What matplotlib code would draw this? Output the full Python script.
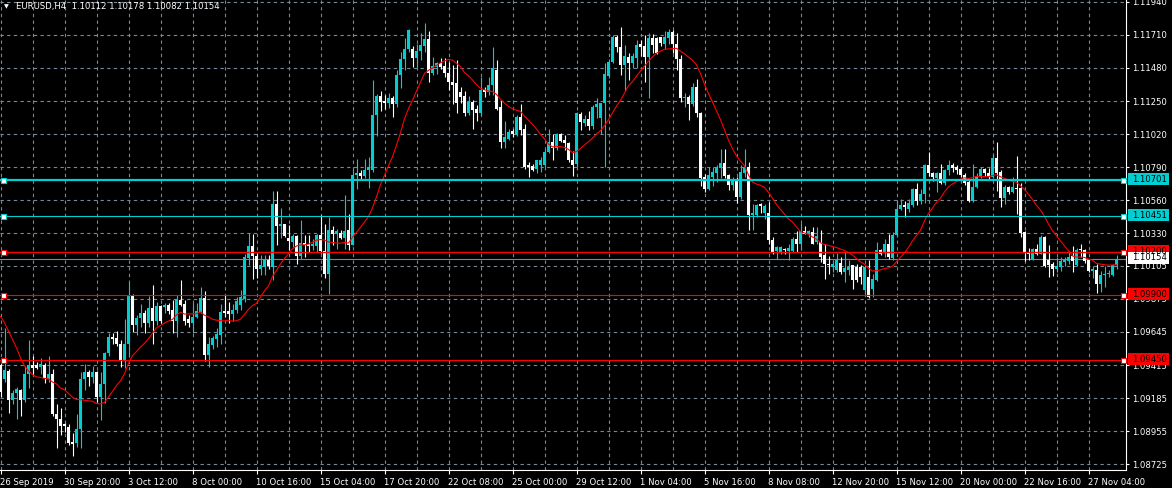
import numpy as np
import pandas as pd
import matplotlib
matplotlib.use('Agg')
from matplotlib import pyplot as plt
from matplotlib.patches import Rectangle

# EURUSD H4, one candle every 4 hours from 26 Sep 2019 00:00
opens = [
    1.09415, 1.09315, 1.09375, 1.09171, 1.09222, 1.09245, 1.09171, 1.09352, 1.09415, 1.09415,
    1.09403, 1.09415, 1.09315, 1.09352, 1.09078, 1.09043, 1.09004, 1.08985, 1.08881, 1.08874,
    1.08974, 1.09315, 1.09368, 1.09333, 1.09368, 1.09194, 1.09287, 1.09496, 1.09607, 1.09600,
    1.09565, 1.09445, 1.09561, 1.09902, 1.09693, 1.09739, 1.09779, 1.09709, 1.09809, 1.09723,
    1.09825, 1.09816, 1.09832, 1.09797, 1.09723, 1.09867, 1.09839, 1.09735, 1.09709, 1.09751,
    1.09786, 1.09879, 1.09484, 1.09554, 1.09593, 1.09623, 1.09790, 1.09790, 1.09770, 1.09800,
    1.09830, 1.09876, 1.10159, 1.10240, 1.10171, 1.10080, 1.10096, 1.10147, 1.10096, 1.10537,
    1.10382, 1.10398, 1.10298, 1.10270, 1.10310, 1.10173, 1.10266, 1.10259, 1.10242, 1.10242,
    1.10317, 1.10205, 1.10050, 1.10352, 1.10329, 1.10336, 1.10298, 1.10352, 1.10252, 1.10734,
    1.10751, 1.10730, 1.10769, 1.10769, 1.11152, 1.11284, 1.11249, 1.11233, 1.11268, 1.11226,
    1.11430, 1.11542, 1.11611, 1.11611, 1.11551, 1.11597, 1.11635, 1.11681, 1.11442, 1.11488,
    1.11512, 1.11495, 1.11442, 1.11379, 1.11372, 1.11314, 1.11284, 1.11168, 1.11245, 1.11198,
    1.11168, 1.11330, 1.11314, 1.11361, 1.11465, 1.11205, 1.10966, 1.10989, 1.11043, 1.11013,
    1.11136, 1.11059, 1.10804, 1.10797, 1.10781, 1.10804, 1.10804, 1.10897, 1.10966, 1.10927,
    1.11024, 1.10978, 1.10959, 1.10839, 1.10811, 1.11159, 1.11094, 1.11122, 1.11075, 1.11205,
    1.11129, 1.11233, 1.11423, 1.11523, 1.11692, 1.11627, 1.11500, 1.11558, 1.11516, 1.11546,
    1.11646, 1.11632, 1.11553, 1.11685, 1.11685, 1.11692, 1.11646, 1.11685, 1.11732, 1.11646,
    1.11540, 1.11268, 1.11280, 1.11229, 1.11350, 1.11169, 1.10723, 1.10642, 1.10723, 1.10751,
    1.10788, 1.10820, 1.10735, 1.10665, 1.10705, 1.10580, 1.10751, 1.10793, 1.10456, 1.10456,
    1.10533, 1.10473, 1.10473, 1.10287, 1.10208, 1.10201, 1.10224, 1.10208, 1.10208, 1.10294,
    1.10254, 1.10347, 1.10324, 1.10340, 1.10271, 1.10271, 1.10178, 1.10120, 1.10097, 1.10078,
    1.10125, 1.10062, 1.10073, 1.10108, 1.10097, 1.10097, 1.09934, 1.10027, 1.09946, 1.10004,
    1.10213, 1.10194, 1.10259, 1.10162, 1.10317, 1.10503, 1.10527, 1.10503, 1.10527, 1.10636,
    1.10557, 1.10603, 1.10805, 1.10747, 1.10712, 1.10747, 1.10677, 1.10770, 1.10805, 1.10789,
    1.10775, 1.10735, 1.10689, 1.10557, 1.10654, 1.10719, 1.10775, 1.10747, 1.10719, 1.10851,
    1.10759, 1.10573, 1.10654, 1.10619, 1.10643, 1.10643, 1.10341, 1.10202, 1.10148, 1.10225,
    1.10190, 1.10302, 1.10148, 1.10116, 1.10086, 1.10097, 1.10132, 1.10139, 1.10172, 1.10109,
    1.10218, 1.10218, 1.10144, 1.10070, 1.10079, 1.09977, 1.10039, 1.10046, 1.10039, 1.10112,
]
highs = [
    1.09449, 1.09670, 1.09391, 1.09241, 1.09264, 1.09252, 1.09408, 1.09589, 1.09477, 1.09438,
    1.09461, 1.09431, 1.09477, 1.09391, 1.09143, 1.09120, 1.09013, 1.09004, 1.08944, 1.09078,
    1.09368, 1.09426, 1.09384, 1.09408, 1.09375, 1.09368, 1.09507, 1.09635, 1.09635, 1.09654,
    1.09589, 1.09732, 1.09995, 1.09910, 1.09763, 1.09839, 1.09797, 1.09895, 1.09971, 1.09855,
    1.09832, 1.09848, 1.09848, 1.09867, 1.09902, 1.10006, 1.09867, 1.09763, 1.09844, 1.09848,
    1.09955, 1.09932, 1.09607, 1.09616, 1.09670, 1.09839, 1.09902, 1.09855, 1.09840, 1.09888,
    1.09934, 1.10189, 1.10336, 1.10329, 1.10196, 1.10178, 1.10178, 1.10178, 1.10623, 1.10623,
    1.10507, 1.10398, 1.10386, 1.10329, 1.10317, 1.10421, 1.10317, 1.10322, 1.10288, 1.10329,
    1.10456, 1.10398, 1.10444, 1.10382, 1.10358, 1.10352, 1.10595, 1.10468, 1.10781, 1.10850,
    1.10769, 1.10850, 1.10862, 1.11396, 1.11296, 1.11319, 1.11291, 1.11303, 1.11287, 1.11465,
    1.11588, 1.11686, 1.11750, 1.11635, 1.11644, 1.11720, 1.11790, 1.11737, 1.11558, 1.11523,
    1.11551, 1.11546, 1.11523, 1.11500, 1.11535, 1.11349, 1.11321, 1.11284, 1.11256, 1.11221,
    1.11414, 1.11349, 1.11419, 1.11627, 1.11535, 1.11256, 1.11112, 1.11059, 1.11059, 1.11152,
    1.11228, 1.11089, 1.10827, 1.10815, 1.10843, 1.10862, 1.10920, 1.11059, 1.11020, 1.11029,
    1.11029, 1.11013, 1.10966, 1.10904, 1.11175, 1.11175, 1.11152, 1.11182, 1.11221, 1.11268,
    1.11238, 1.11516, 1.11539, 1.11709, 1.11709, 1.11762, 1.11639, 1.11581, 1.11581, 1.11674,
    1.11674, 1.11709, 1.11720, 1.11716, 1.11692, 1.11697, 1.11739, 1.11748, 1.11743, 1.11720,
    1.11570, 1.11303, 1.11291, 1.11378, 1.11400, 1.11175, 1.10746, 1.10793, 1.10793, 1.10804,
    1.10920, 1.10920, 1.10746, 1.10723, 1.10723, 1.10804, 1.10920, 1.10828, 1.10537, 1.10537,
    1.10542, 1.10537, 1.10549, 1.10305, 1.10240, 1.10240, 1.10231, 1.10259, 1.10305, 1.10347,
    1.10403, 1.10380, 1.10357, 1.10375, 1.10375, 1.10357, 1.10259, 1.10171, 1.10143, 1.10194,
    1.10166, 1.10201, 1.10143, 1.10108, 1.10120, 1.10108, 1.10108, 1.10143, 1.10050, 1.10271,
    1.10224, 1.10294, 1.10329, 1.10340, 1.10561, 1.10572, 1.10557, 1.10566, 1.10643, 1.10677,
    1.10636, 1.10812, 1.10898, 1.10759, 1.10759, 1.10812, 1.10775, 1.10840, 1.10821, 1.10805,
    1.10789, 1.10747, 1.10701, 1.10812, 1.10747, 1.10789, 1.10782, 1.10782, 1.10886, 1.10967,
    1.10770, 1.10666, 1.10659, 1.10719, 1.10868, 1.10682, 1.10348, 1.10232, 1.10232, 1.10255,
    1.10318, 1.10311, 1.10248, 1.10132, 1.10167, 1.10167, 1.10167, 1.10209, 1.10241, 1.10232,
    1.10255, 1.10225, 1.10148, 1.10102, 1.10116, 1.10070, 1.10102, 1.10074, 1.10116, 1.10178,
]
lows = [
    1.09194, 1.09299, 1.09083, 1.09143, 1.09043, 1.09060, 1.09159, 1.09259, 1.09352, 1.09387,
    1.09352, 1.09292, 1.09299, 1.09060, 1.08842, 1.08927, 1.08951, 1.08858, 1.08781, 1.08846,
    1.08842, 1.09245, 1.09268, 1.09292, 1.09159, 1.09036, 1.09152, 1.09477, 1.09561, 1.09547,
    1.09403, 1.09398, 1.09473, 1.09647, 1.09623, 1.09677, 1.09640, 1.09677, 1.09561, 1.09693,
    1.09709, 1.09779, 1.09770, 1.09635, 1.09612, 1.09825, 1.09693, 1.09677, 1.09640, 1.09739,
    1.09779, 1.09445, 1.09403, 1.09524, 1.09542, 1.09561, 1.09751, 1.09709, 1.09720, 1.09780,
    1.09800, 1.09853, 1.10108, 1.10015, 1.10020, 1.10038, 1.10043, 1.10084, 1.10004, 1.10247,
    1.10298, 1.10305, 1.10212, 1.10236, 1.10120, 1.10154, 1.10166, 1.10201, 1.10212, 1.10201,
    1.10196, 1.10020, 1.09911, 1.10247, 1.10224, 1.10288, 1.10224, 1.10212, 1.10247, 1.10642,
    1.10700, 1.10716, 1.10646, 1.10760, 1.11008, 1.11180, 1.11198, 1.11203, 1.11140, 1.11210,
    1.11342, 1.11465, 1.11588, 1.11488, 1.11488, 1.11535, 1.11588, 1.11384, 1.11430, 1.11435,
    1.11472, 1.11419, 1.11326, 1.11226, 1.11168, 1.11233, 1.11145, 1.11152, 1.11059, 1.11112,
    1.11152, 1.11279, 1.11291, 1.11291, 1.11191, 1.10927, 1.10927, 1.10982, 1.11001, 1.11006,
    1.11013, 1.10781, 1.10723, 1.10764, 1.10750, 1.10757, 1.10792, 1.10890, 1.10839, 1.10913,
    1.10966, 1.10908, 1.10827, 1.10727, 1.10792, 1.11047, 1.11075, 1.11052, 1.11059, 1.11129,
    1.11024, 1.10792, 1.11407, 1.11516, 1.11593, 1.11430, 1.11321, 1.11395, 1.11477, 1.11477,
    1.11562, 1.11384, 1.11268, 1.11586, 1.11576, 1.11632, 1.11609, 1.11646, 1.11581, 1.11465,
    1.11245, 1.11205, 1.11117, 1.11215, 1.11136, 1.10658, 1.10619, 1.10635, 1.10658, 1.10688,
    1.10712, 1.10718, 1.10635, 1.10635, 1.10542, 1.10572, 1.10723, 1.10352, 1.10352, 1.10445,
    1.10473, 1.10433, 1.10259, 1.10185, 1.10155, 1.10185, 1.10185, 1.10148, 1.10201, 1.10201,
    1.10213, 1.10324, 1.10305, 1.10254, 1.10259, 1.10132, 1.10016, 1.10050, 1.10062, 1.10062,
    1.10050, 1.09992, 1.10039, 1.09946, 1.09992, 1.09981, 1.09911, 1.09883, 1.09888, 1.09999,
    1.10178, 1.10166, 1.10155, 1.10143, 1.10305, 1.10491, 1.10445, 1.10480, 1.10515, 1.10527,
    1.10534, 1.10538, 1.10728, 1.10696, 1.10619, 1.10673, 1.10666, 1.10735, 1.10759, 1.10742,
    1.10719, 1.10666, 1.10550, 1.10550, 1.10643, 1.10712, 1.10728, 1.10701, 1.10712, 1.10626,
    1.10515, 1.10534, 1.10603, 1.10608, 1.10464, 1.10302, 1.10139, 1.10148, 1.10144, 1.10179,
    1.10186, 1.10097, 1.10028, 1.10032, 1.10063, 1.10070, 1.10102, 1.10116, 1.10063, 1.10102,
    1.10167, 1.10125, 1.10063, 1.10023, 1.09916, 1.09923, 1.09958, 1.10028, 1.10032, 1.10082,
]
closes = [
    1.09229, 1.09380, 1.09171, 1.09222, 1.09252, 1.09171, 1.09352, 1.09415, 1.09398, 1.09398,
    1.09422, 1.09322, 1.09352, 1.09078, 1.09043, 1.08990, 1.08990, 1.08874, 1.08869, 1.08974,
    1.09315, 1.09368, 1.09333, 1.09368, 1.09194, 1.09287, 1.09496, 1.09607, 1.09593, 1.09561,
    1.09445, 1.09561, 1.09902, 1.09693, 1.09739, 1.09779, 1.09709, 1.09809, 1.09723, 1.09825,
    1.09723, 1.09832, 1.09793, 1.09723, 1.09872, 1.09832, 1.09723, 1.09709, 1.09751, 1.09790,
    1.09879, 1.09484, 1.09561, 1.09600, 1.09630, 1.09786, 1.09774, 1.09770, 1.09800, 1.09860,
    1.09888, 1.10166, 1.10240, 1.10171, 1.10080, 1.10108, 1.10147, 1.10103, 1.10537, 1.10382,
    1.10398, 1.10310, 1.10275, 1.10310, 1.10173, 1.10266, 1.10247, 1.10242, 1.10259, 1.10317,
    1.10205, 1.10050, 1.10352, 1.10329, 1.10345, 1.10298, 1.10345, 1.10252, 1.10739, 1.10751,
    1.10730, 1.10769, 1.10792, 1.11152, 1.11284, 1.11240, 1.11233, 1.11268, 1.11226, 1.11430,
    1.11542, 1.11611, 1.11744, 1.11551, 1.11597, 1.11639, 1.11681, 1.11442, 1.11495, 1.11512,
    1.11484, 1.11442, 1.11379, 1.11361, 1.11238, 1.11279, 1.11168, 1.11245, 1.11187, 1.11168,
    1.11326, 1.11314, 1.11361, 1.11477, 1.11198, 1.10966, 1.11001, 1.11036, 1.11024, 1.11136,
    1.11047, 1.10792, 1.10792, 1.10769, 1.10839, 1.10839, 1.10897, 1.10966, 1.10927, 1.11024,
    1.10973, 1.10955, 1.10839, 1.10804, 1.11168, 1.11105, 1.11122, 1.11075, 1.11205, 1.11228,
    1.11233, 1.11437, 1.11523, 1.11692, 1.11627, 1.11500, 1.11562, 1.11516, 1.11562, 1.11639,
    1.11627, 1.11553, 1.11685, 1.11639, 1.11581, 1.11655, 1.11692, 1.11732, 1.11646, 1.11539,
    1.11268, 1.11280, 1.11229, 1.11350, 1.11164, 1.10718, 1.10642, 1.10734, 1.10758, 1.10793,
    1.10820, 1.10728, 1.10665, 1.10700, 1.10580, 1.10758, 1.10793, 1.10456, 1.10473, 1.10526,
    1.10519, 1.10519, 1.10282, 1.10201, 1.10236, 1.10236, 1.10213, 1.10231, 1.10294, 1.10259,
    1.10347, 1.10329, 1.10347, 1.10259, 1.10310, 1.10166, 1.10120, 1.10108, 1.10120, 1.10148,
    1.10062, 1.10092, 1.10097, 1.10004, 1.10004, 1.10027, 1.10097, 1.09888, 1.10016, 1.10213,
    1.10190, 1.10259, 1.10166, 1.10317, 1.10503, 1.10526, 1.10515, 1.10543, 1.10636, 1.10557,
    1.10603, 1.10805, 1.10747, 1.10719, 1.10747, 1.10677, 1.10770, 1.10805, 1.10782, 1.10770,
    1.10735, 1.10682, 1.10557, 1.10654, 1.10728, 1.10775, 1.10747, 1.10719, 1.10851, 1.10752,
    1.10573, 1.10654, 1.10619, 1.10654, 1.10636, 1.10334, 1.10195, 1.10190, 1.10225, 1.10190,
    1.10302, 1.10102, 1.10109, 1.10086, 1.10102, 1.10139, 1.10148, 1.10167, 1.10139, 1.10218,
    1.10213, 1.10139, 1.10070, 1.10086, 1.09977, 1.10039, 1.10046, 1.10053, 1.10109, 1.10154,
]
# closes before 26 Sep, only used to start the moving average
warmup_closes = [1.09990, 1.10020, 1.10010, 1.10080, 1.10150, 1.10120, 1.09900,
                 1.09780, 1.09600, 1.09480, 1.09420, 1.09400, 1.09380]
ma_period = 14

date_labels = ['26 Sep 2019', '30 Sep 20:00', '3 Oct 12:00', '8 Oct 00:00', '10 Oct 16:00',
               '15 Oct 04:00', '17 Oct 20:00', '22 Oct 08:00', '25 Oct 00:00', '29 Oct 12:00',
               '1 Nov 04:00', '5 Nov 16:00', '8 Nov 08:00', '12 Nov 20:00', '15 Nov 12:00',
               '20 Nov 00:00', '22 Nov 16:00', '27 Nov 04:00']
price_labels = ['1.11940', '1.11710', '1.11480', '1.11250', '1.11020', '1.10790', '1.10560',
                '1.10330', '1.10105', '1.09875', '1.09645', '1.09415', '1.09185', '1.08955',
                '1.08725']
cyan_levels = [1.10701, 1.10451]
red_levels = [1.10200, 1.09900, 1.09450]
bid = 1.10154
header = 'EURUSD,H4  1.10112 1.10178 1.10082 1.10154'

CYAN = '#00CED1'
RED = '#FF0000'
GRID = '#778899'
FS = 6.1

W, H = 1172, 488
AX_W, AX_H, AX_B = 1126, 470, 18
ylo, yhi = 1.08686, 1.11952

fig = plt.figure(figsize=(W / 100, H / 100), dpi=100, facecolor='black')
ax = fig.add_axes([0, AX_B / H, AX_W / W, AX_H / H])
ax.set_facecolor('black')
ax.set_xlim(-0.125, AX_W / 4 - 0.125)
ax.set_ylim(ylo, yhi)

o = np.array(opens)
h = np.array(highs)
l = np.array(lows)
c = np.array(closes)
x = np.arange(len(c))
colors = np.where(c >= o, CYAN, 'white')
px = (yhi - ylo) / AX_H

ax.vlines(x, l, h, colors=colors, lw=0.8, zorder=2)
ax.bar(x, np.maximum(np.abs(c - o), px), bottom=np.minimum(o, c), width=0.75,
       color=colors, linewidth=0, zorder=2)

allc = pd.Series(warmup_closes + closes)
ma = allc.rolling(ma_period).mean().iloc[len(warmup_closes):].to_numpy()
ax.plot(x, ma, color=RED, lw=0.8, zorder=3)

# horizontal levels
ax.axhline(bid, color=GRID, lw=0.8, zorder=1.5)
for lvl, col, lw in [(cyan_levels[0], CYAN, 1.6), (cyan_levels[1], CYAN, 0.8),
                     (red_levels[0], RED, 1.0), (red_levels[1], RED, 0.8), (red_levels[2], RED, 0.8)]:
    ax.axhline(lvl, color=col, lw=lw, zorder=4)
    ax.plot([0.5, AX_W / 4 - 1.0], [lvl, lvl], 's', ms=3.6, mfc='white', mec=col, mew=0.8,
            zorder=5, clip_on=False)

# grid and axes
ax.set_xticks(range(0, len(c), 16))
ax.set_xticks(range(8, len(c), 16), minor=True)
ax.set_xticklabels(date_labels)
ax.set_yticks([float(p) for p in price_labels])
ax.set_yticklabels(price_labels)
ax.yaxis.tick_right()
ax.grid(True, which='both', color=GRID, linestyle=(0, (3, 3)), linewidth=0.8, zorder=0)
ax.set_axisbelow(True)
ax.tick_params(axis='x', which='major', colors='white', length=3, width=0.8, pad=2.5, labelsize=FS)
ax.tick_params(axis='x', which='minor', length=0)
ax.tick_params(axis='y', colors='white', length=2.2, width=0.8, pad=2.2, labelsize=FS)
for lab in ax.get_xticklabels():
    lab.set_ha('left')
for side in ['left', 'top']:
    ax.spines[side].set_visible(False)
for side in ['right', 'bottom']:
    ax.spines[side].set_color('white')
    ax.spines[side].set_linewidth(0.8)


def fy(p):
    return (AX_B + (p - ylo) / (yhi - ylo) * AX_H) / H


# price tags on the right, drawn over the scale like the terminal does
tags = [(p, CYAN) for p in cyan_levels] + [(p, RED) for p in red_levels] + [(bid, 'white')]
for p, col in tags:
    yc = fy(p) + 1 / H
    fig.add_artist(Rectangle((1128 / W, yc - 6 / H), 41 / W, 12 / H, transform=fig.transFigure,
                             facecolor=col, edgecolor='none', zorder=5))
    fig.text(1132 / W, yc, '%.5f' % p, color='black', fontsize=FS, va='center', ha='left',
             zorder=6)

fig.text(4 / W, 1 - 7 / H, '\u25bc', color='white', fontsize=4.5, va='center', ha='left')
fig.text(16 / W, 1 - 7 / H, header, color='white', fontsize=FS, va='center', ha='left')

fig.savefig('out.png', dpi=100, facecolor='black')
